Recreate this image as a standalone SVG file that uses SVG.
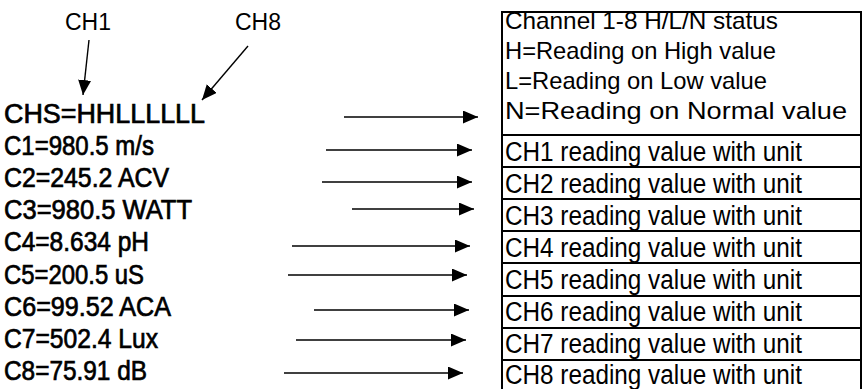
<svg xmlns="http://www.w3.org/2000/svg" width="867" height="389" viewBox="0 0 867 389">
<style>
.lbl{font-family:"Liberation Sans",Arial,sans-serif;font-size:27px;fill:#000;stroke:#000;stroke-width:0.7}
.top{font-family:"Liberation Sans",Arial,sans-serif;font-size:23px;fill:#000}
.cell{font-family:"Liberation Sans",Arial,sans-serif;font-size:27px;fill:#000}
.hdr{font-family:"Liberation Sans",Arial,sans-serif;font-size:24px;fill:#000}
.box{fill:#fff;stroke:#000;stroke-width:2}
.arr{stroke:#000;stroke-width:1.4;fill:none;marker-end:url(#ah)}
</style>
<defs>
<marker id="ah" markerUnits="userSpaceOnUse" markerWidth="16" markerHeight="14" refX="15" refY="6.5" orient="auto">
<path d="M0,0 L15,6.5 L0,13 Z" fill="#000"/>
</marker>
</defs>
<rect width="867" height="389" fill="#fff"/>
<g id="ch1-label"><text class="top" x="65" y="30" textLength="46" lengthAdjust="spacingAndGlyphs">CH1</text></g>
<g id="ch8-label"><text class="top" x="235" y="30" textLength="46" lengthAdjust="spacingAndGlyphs">CH8</text></g>
<g id="left-labels">
<text class="lbl" x="4" y="123" textLength="201" lengthAdjust="spacingAndGlyphs">CHS=HHLLLLLL</text>
<text class="lbl" x="4" y="155" textLength="150" lengthAdjust="spacingAndGlyphs">C1=980.5 m/s</text>
<text class="lbl" x="4" y="187" textLength="165" lengthAdjust="spacingAndGlyphs">C2=245.2 ACV</text>
<text class="lbl" x="4" y="219" textLength="188" lengthAdjust="spacingAndGlyphs">C3=980.5 WATT</text>
<text class="lbl" x="4" y="251" textLength="145" lengthAdjust="spacingAndGlyphs">C4=8.634 pH</text>
<text class="lbl" x="4" y="284" textLength="140" lengthAdjust="spacingAndGlyphs">C5=200.5 uS</text>
<text class="lbl" x="4" y="316" textLength="167" lengthAdjust="spacingAndGlyphs">C6=99.52 ACA</text>
<text class="lbl" x="4" y="348" textLength="154" lengthAdjust="spacingAndGlyphs">C7=502.4 Lux</text>
<text class="lbl" x="4" y="380" textLength="143" lengthAdjust="spacingAndGlyphs">C8=75.91 dB</text>
</g>
<g id="connectors">
<line class="arr" x1="89" y1="40" x2="83" y2="95"/>
<line class="arr" x1="248" y1="46" x2="202" y2="100"/>
<line class="arr" x1="344" y1="117" x2="478" y2="117"/>
<line class="arr" x1="326" y1="150" x2="472" y2="150"/>
<line class="arr" x1="322" y1="182" x2="472" y2="182"/>
<line class="arr" x1="352" y1="209" x2="474" y2="209"/>
<line class="arr" x1="292" y1="246" x2="470" y2="246"/>
<line class="arr" x1="288" y1="275" x2="467" y2="275"/>
<line class="arr" x1="314" y1="310" x2="469" y2="310"/>
<line class="arr" x1="296" y1="340" x2="466" y2="340"/>
<line class="arr" x1="284" y1="373" x2="463" y2="373"/>
</g>
<g id="status-box">
<rect class="box" x="502" y="12" width="359" height="123"/>
<text class="hdr" x="505" y="29" textLength="273" lengthAdjust="spacingAndGlyphs">Channel 1-8 H/L/N status</text>
<text class="hdr" x="505" y="59" textLength="271" lengthAdjust="spacingAndGlyphs">H=Reading on High value</text>
<text class="hdr" x="505" y="89" textLength="262" lengthAdjust="spacingAndGlyphs">L=Reading on Low value</text>
<text class="hdr" x="505" y="119" textLength="342" lengthAdjust="spacingAndGlyphs">N=Reading on Normal value</text>
</g>
<g id="cell-ch1"><rect class="box" x="502" y="135" width="359" height="32"/><text class="cell" x="505" y="161" textLength="297" lengthAdjust="spacingAndGlyphs">CH1 reading value with unit</text></g>
<g id="cell-ch2"><rect class="box" x="502" y="167" width="359" height="32"/><text class="cell" x="505" y="193" textLength="297" lengthAdjust="spacingAndGlyphs">CH2 reading value with unit</text></g>
<g id="cell-ch3"><rect class="box" x="502" y="199" width="359" height="32"/><text class="cell" x="505" y="225" textLength="297" lengthAdjust="spacingAndGlyphs">CH3 reading value with unit</text></g>
<g id="cell-ch4"><rect class="box" x="502" y="231" width="359" height="32"/><text class="cell" x="505" y="257" textLength="297" lengthAdjust="spacingAndGlyphs">CH4 reading value with unit</text></g>
<g id="cell-ch5"><rect class="box" x="502" y="263" width="359" height="33"/><text class="cell" x="505" y="289" textLength="297" lengthAdjust="spacingAndGlyphs">CH5 reading value with unit</text></g>
<g id="cell-ch6"><rect class="box" x="502" y="296" width="359" height="32"/><text class="cell" x="505" y="321" textLength="297" lengthAdjust="spacingAndGlyphs">CH6 reading value with unit</text></g>
<g id="cell-ch7"><rect class="box" x="502" y="328" width="359" height="32"/><text class="cell" x="505" y="353" textLength="297" lengthAdjust="spacingAndGlyphs">CH7 reading value with unit</text></g>
<g id="cell-ch8"><rect class="box" x="502" y="360" width="359" height="32"/><text class="cell" x="505" y="384" textLength="297" lengthAdjust="spacingAndGlyphs">CH8 reading value with unit</text></g>
</svg>
